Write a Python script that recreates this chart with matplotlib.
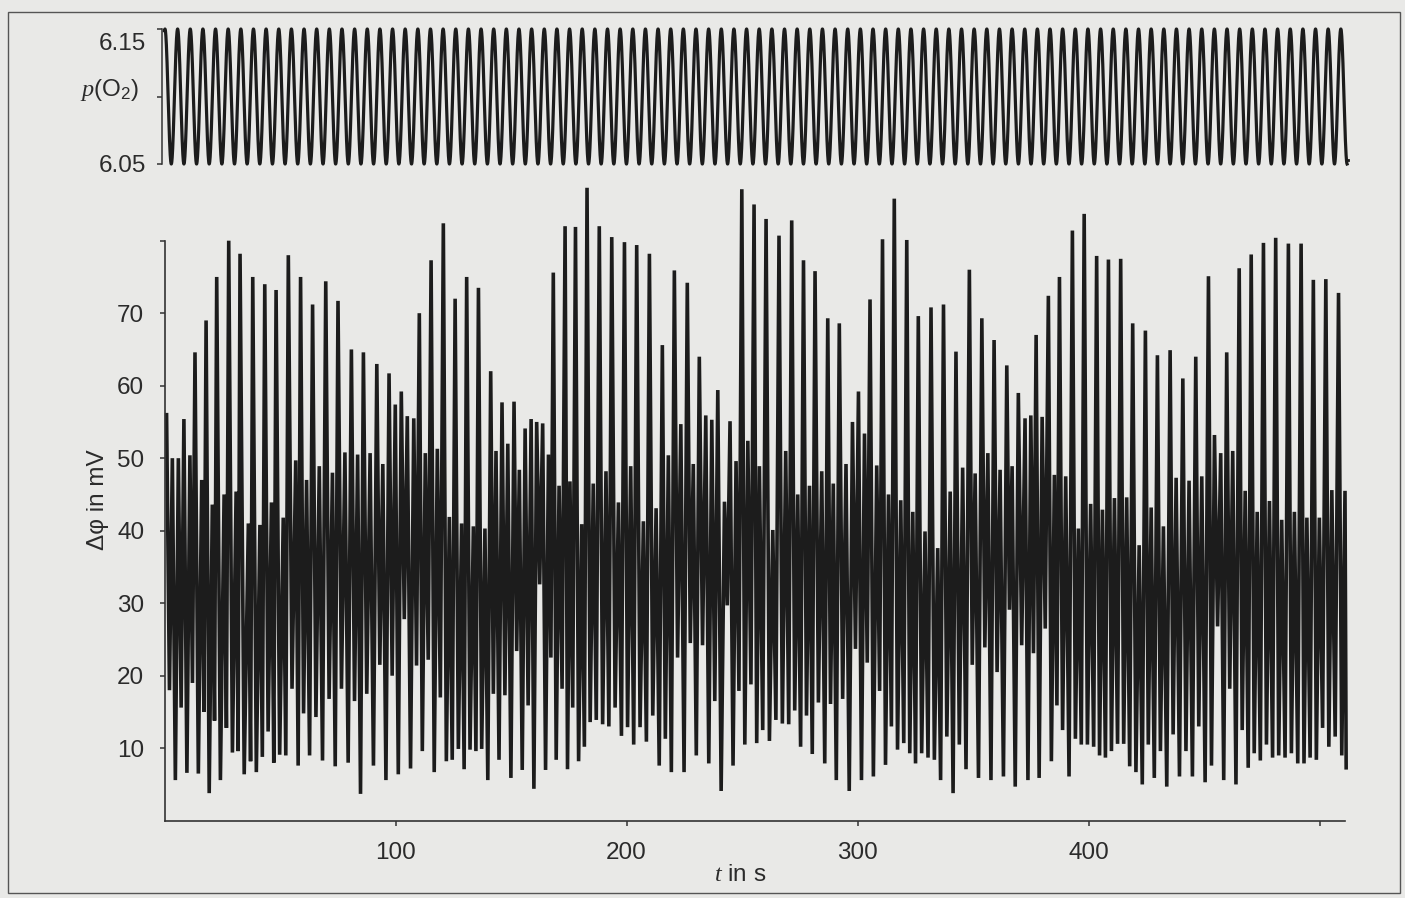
import matplotlib
matplotlib.use("Agg")
import matplotlib.pyplot as plt
import matplotlib.transforms as mtransforms
from matplotlib.patches import Rectangle
import numpy as np

plt.rcParams['font.family'] = ['Liberation Sans', 'DejaVu Sans']
plt.rcParams['mathtext.fontset'] = 'custom'
plt.rcParams['mathtext.rm'] = 'Liberation Sans'
plt.rcParams['mathtext.it'] = 'Liberation Serif:italic'

# ---- periodic oxygen forcing -------------------------------------------
P_O2_LOW = 6.05
P_O2_HIGH = 6.15
FORCING_PERIOD = 5.473      # s
FORCING_FIRST_MAX = 0.2     # s
FORCING_END = 511.9         # s

# ---- electrode potential response: peak maxima ---------------------------
peak_times = [
    0.9, 3.4, 6.0, 8.4, 11.0, 13.2, 16.1, 18.0, 20.7, 22.6, 25.8, 27.8, 31.0,
    32.7, 36.3, 38.2, 41.3, 43.4, 46.3, 48.3, 51.4, 53.6, 56.8, 58.9, 61.5,
    64.1, 67.0, 69.8, 72.7, 75.1, 78.1, 80.9, 83.6, 86.1, 89.0, 91.9, 94.5,
    97.2, 99.9, 102.5, 105.1, 107.9, 110.3, 112.9, 115.4, 118.1, 120.7, 123.3,
    125.8,
    128.6, 130.8, 133.7, 135.9, 138.7, 141.2, 143.5, 146.1, 148.6, 151.3,
    153.6, 156.1, 158.7, 161.1, 163.7, 166.2, 168.3, 170.8, 173.4, 175.5,
    177.9, 180.6, 182.9, 185.6, 188.2, 191.1,
    193.6, 196.5, 199.1, 201.8, 204.4, 207.3, 209.9, 212.8, 215.5, 218.1,
    220.7, 223.5, 226.3, 228.9, 231.5, 234.3, 236.9, 239.5, 242.4, 244.8,
    247.4, 249.9, 252.5, 255.2, 257.5,
    260.4, 263.3, 266.0, 268.9, 271.5, 274.1, 276.6, 279.2, 281.6, 284.5,
    287.1, 289.5, 292.1, 295.0, 297.8, 300.4, 303.0, 305.4, 308.3, 310.8,
    313.4, 315.9, 318.7, 321.3,
    323.9, 326.3, 329.2, 331.8, 334.7, 337.2, 340.1, 342.6, 345.5, 348.4,
    350.9, 353.8, 356.4, 359.1, 361.7, 364.6, 366.9, 369.6, 372.5, 375.0,
    377.3, 379.9, 382.6, 385.2, 387.4,
    390.1, 393.0, 395.6, 398.1, 400.9, 403.5, 406.0, 408.6, 411.2, 413.9,
    416.5, 419.1, 421.9, 424.6, 427.1, 429.8, 432.4, 435.3, 437.9, 440.8,
    443.5, 446.4, 449.0, 451.9,
    454.5, 457.2, 459.8, 462.4, 465.2, 467.8, 470.4, 473.0, 475.7, 478.3,
    481.0, 483.6, 486.5, 489.1, 492.0, 494.5, 497.3, 499.9, 502.7, 505.3,
    508.2, 511.0,
]
peak_values = [
    56, 50, 50, 55.4, 50.4, 64.6, 47, 69, 43.6, 75, 45, 80, 45.4,
    78.2, 41, 75, 40.8, 74, 43.9, 73.2, 41.8, 78, 49.7, 75, 47,
    71.2, 48.9, 74.4, 48, 71.7, 50.8, 65, 50.5, 64.6, 50.7, 63, 49.2,
    61.7, 57.4, 59.2, 55.8, 55.5, 70, 50.7, 77.3, 51.3, 82.4, 41.9,
    72,
    41, 75, 40.6, 73.5, 40.3, 62, 51, 57.7, 52, 57.8,
    48.4, 54.1, 55.4, 55, 54.8, 50.5, 75.6, 46.2, 82, 46.8,
    81.9, 40.9, 87.3, 46.5, 82, 48.2,
    80.5, 43.9, 79.8, 48.9, 79.4, 41.3, 78.2, 43.1, 65.6, 50.4,
    75.9, 54.7, 74.2, 49.2, 64, 55.9, 55.3, 59.4, 44, 55.1,
    49.6, 87.1, 52.4, 85, 48.9,
    83, 40.1, 80.7, 51, 82.8, 45, 77.3, 46.2, 75.8, 48.2,
    69.3, 46.5, 68.6, 49.2, 55, 59.2, 53.4, 71.9, 49, 80.2,
    45, 85.8, 44.2, 80.1,
    42.6, 69.6, 39.9, 70.8, 37.6, 71.2, 45.4, 64.7, 48.7, 76,
    47.9, 69.3, 50.7, 66.3, 48.4, 62.8, 48.9, 59, 55.5, 55.9,
    67, 55.7, 72.4, 47.7, 75,
    47.5, 81.4, 40.3, 83.7, 43.7, 77.9, 42.9, 77.4, 44.5, 77.5,
    44.6, 68.6, 38, 67.6, 43.2, 64.2, 40.6, 64.9, 47.3, 61,
    46.9, 64, 47.5, 75.1,
    53.2, 50.7, 64.6, 51, 76.2, 45.5, 78.1, 42.6, 79.7, 44.1,
    80.4, 41.5, 79.6, 42.6, 79.6, 41.8, 74.6, 41.8, 74.7, 45.6,
    72.8, 45.5,
]
# minimum following each maximum
trough_values = [
    18, 5.6, 15.6, 6.6, 19, 6.5, 15, 3.8, 13.8, 5.6, 12.8, 9.4, 9.6,
    6.4, 8.2, 6.7, 8.8, 12.3, 8, 9.1, 9, 18.2, 7.6, 14.8, 9,
    14.3, 8.3, 16.8, 7.5, 18.2, 8, 16.5, 3.7, 17.5, 7.6, 21.5, 5.6,
    20, 6.4, 27.8, 7.2, 21.4, 9.6, 22.2, 6.7, 17, 8.2, 8.4,
    9.9,
    7.1, 9.8, 9.6, 9.9, 5.6, 17.5, 8.4, 17.3, 5.9, 23.4,
    7, 15.9, 4.4, 32.6, 7, 22.5, 8.4, 18.2, 7.1, 15.6,
    8.2, 10.2, 13.6, 13.9, 13.3, 13,
    15.6, 11.7, 12.9, 10.5, 12.9, 10.9, 14.5, 7.6, 11.3, 6.7,
    22.5, 6.7, 24.5, 9, 24.2, 7.9, 16.5, 4.1, 29.7, 7.6,
    17.9, 10.5, 18.8, 10.7, 12.5,
    11, 13.9, 13.4, 13.3, 15.2, 10.2, 14.5, 9.2, 16.3, 7.9,
    16.1, 5.6, 16.8, 4.1, 23.7, 5.6, 21.8, 6.1, 17.9, 7.7,
    13, 9.8, 10.7, 9.3,
    7.9, 9.3, 8.7, 8.4, 5.6, 11.6, 3.8, 10.5, 7.1, 21.5,
    5.9, 23.9, 5.6, 20.5, 6.1, 29.1, 4.7, 24.2, 5.6, 23.1,
    5.9, 26.5, 8.2, 15.9, 12.5,
    6.1, 11.3, 10.5, 10.5, 10.2, 9, 8.7, 9.6, 10.6, 10.6,
    7.5, 6.7, 5, 10.5, 5.9, 9.6, 4.7, 11.9, 6.1, 9.6,
    6.1, 13, 5.3, 7.6,
    26.8, 5.6, 18.2, 5, 12.5, 7.3, 9.3, 8.3, 10.5, 8.7,
    9, 8.7, 9.3, 7.9, 7.9, 8.7, 8.4, 12.8, 10.2, 11.6,
    9.0, 7.3,
]
TRACE_END = 511.5   # s, time of the last minimum

x_ticks = [100, 200, 300, 400, 500]
x_ticklabels = ['100', '200', '300', '400', '']
y_ticks = [10, 20, 30, 40, 50, 60, 70, 80]
y_ticklabels = ['10', '20', '30', '40', '50', '60', '70', '']

# ---- assemble the response trace (maximum, following minimum, ...) -------
pt = np.asarray(peak_times, float)
trough_times = np.append(0.5 * (pt[:-1] + pt[1:]), TRACE_END)
trace_t = np.empty(2 * len(pt))
trace_v = np.empty(2 * len(pt))
trace_t[0::2] = pt
trace_t[1::2] = trough_times
trace_v[0::2] = peak_values
trace_v[1::2] = trough_values

# ---- forcing curve ---------------------------------------------------------
p_mid = 0.5 * (P_O2_LOW + P_O2_HIGH)
p_amp = 0.5 * (P_O2_HIGH - P_O2_LOW)
ft = np.linspace(0.0, FORCING_END, 12000)
fp = p_mid + p_amp * np.cos(2 * np.pi * (ft - FORCING_FIRST_MAX) / FORCING_PERIOD)

# ---- figure ----------------------------------------------------------------
W, H = 1405, 898
BG = '#e9e9e7'
INK = '#1c1c1c'
TXT = '#2b2b2b'
fig = plt.figure(figsize=(W / 100, H / 100), dpi=100, facecolor=BG)

def box(l, t, r, b):
    return [l / W, 1 - b / H, (r - l) / W, (b - t) / H]

XMAX = 511.0
FS = 17.5

# upper panel: forcing
ax_f = fig.add_axes(box(164.5, 29, 1345, 164))
ax_f.set_facecolor('none')
ax_f.plot(ft, fp, color=INK, lw=2.3, clip_on=False, solid_joinstyle='round')
ax_f.plot([FORCING_END, FORCING_END + 0.6], [P_O2_LOW + 0.003] * 2,
          color=INK, lw=2.0, clip_on=False)
ax_f.set_xlim(0, XMAX)
ax_f.set_ylim(P_O2_LOW, P_O2_HIGH)
for s in ('top', 'right', 'bottom'):
    ax_f.spines[s].set_visible(False)
ax_f.spines['left'].set_position(('outward', 2))
ax_f.spines['left'].set_linewidth(1.1)
ax_f.spines['left'].set_color('#333333')
ax_f.set_xticks([])
ax_f.set_yticks([P_O2_LOW, p_mid, P_O2_HIGH])
ax_f.set_yticklabels(['6.05', '', '6.15'])
ax_f.tick_params(axis='y', direction='out', length=3.5, width=1.1,
                 color='#333333', labelsize=FS, labelcolor=TXT, pad=8)
top_lbl = ax_f.get_yticklabels()[2]
top_lbl.set_transform(top_lbl.get_transform() +
                      mtransforms.ScaledTranslation(0, -0.13, fig.dpi_scale_trans))

fig.text(110 / W, 1 - 90 / H, r'$p$(O$_2$)', fontsize=FS, color=TXT,
         ha='center', va='center')

# lower panel: potential response
ax = fig.add_axes(box(164.5, 240.7, 1345, 820.7))
ax.set_facecolor('none')
ax.plot(trace_t, trace_v, color=INK, lw=2.6, clip_on=False,
        solid_joinstyle='miter')
ax.set_xlim(0, XMAX)
ax.set_ylim(0, 80)
for s in ('top', 'right'):
    ax.spines[s].set_visible(False)
for s in ('left', 'bottom'):
    ax.spines[s].set_linewidth(1.2)
    ax.spines[s].set_color('#333333')
ax.set_xticks(x_ticks)
ax.set_xticklabels(x_ticklabels)
ax.set_yticks(y_ticks)
ax.set_yticklabels(y_ticklabels)
ax.tick_params(axis='both', direction='out', length=3.5, width=1.1,
               color='#333333', labelsize=FS, labelcolor=TXT)
ax.tick_params(axis='y', pad=11)
ax.tick_params(axis='x', pad=12)

fig.text(98 / W, 1 - 500 / H, 'Δφ in mV', fontsize=FS, color=TXT,
         rotation=90, ha='center', va='center')
fig.text(740 / W, 1 - 875 / H, r'$t$ in s', fontsize=FS, color=TXT,
         ha='center', va='center')

# page frame
fig.add_artist(Rectangle((8 / W, 1 - 893 / H), (1400 - 8) / W, (893 - 12) / H,
                         transform=fig.transFigure, fill=False,
                         edgecolor='#555555', lw=1.0))

fig.savefig('out.png', dpi=100, facecolor=BG)
